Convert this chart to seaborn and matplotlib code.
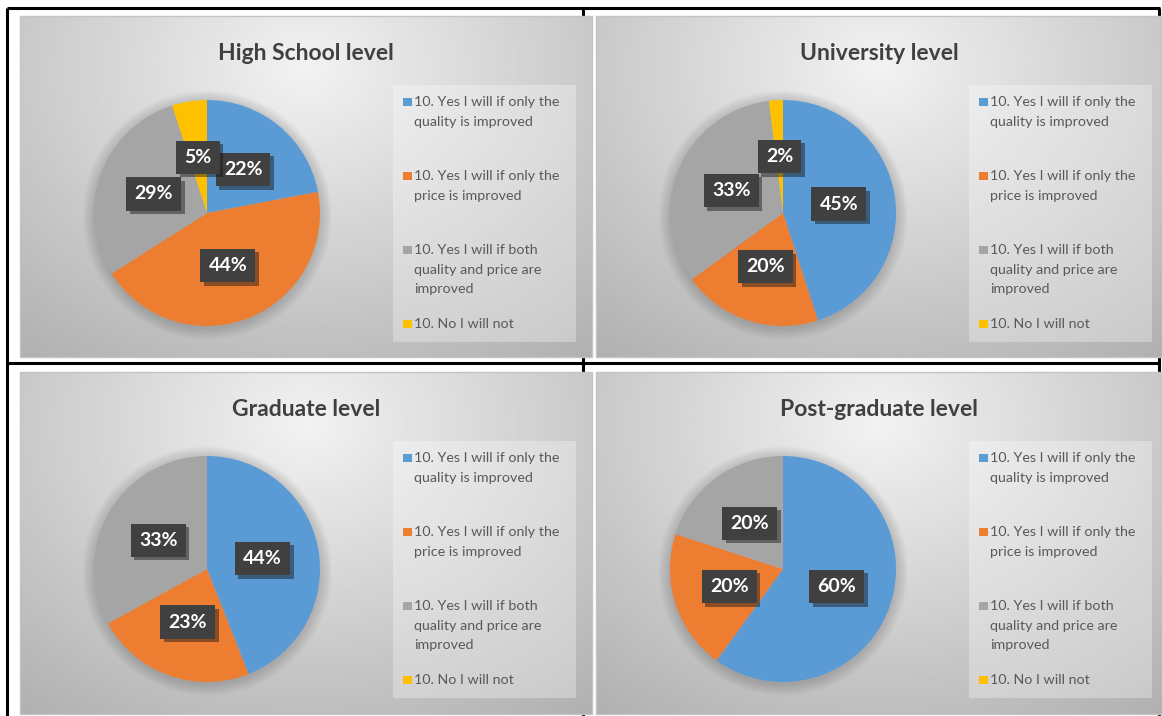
import textwrap
import numpy as np
import seaborn as sns
import matplotlib.pyplot as plt
from matplotlib.patches import Rectangle, Circle
import matplotlib.patheffects as pe

# data
categories = [
    '10. Yes I will if only the quality is improved',
    '10. Yes I will if only the price is improved',
    '10. Yes I will if both quality and price are improved',
    '10. No I will not',
]
titles = ['High School level', 'University level', 'Graduate level', 'Post-graduate level']
high_school = [22, 44, 29, 5]
university = [45, 20, 33, 2]
graduate = [44, 23, 33, 0]
post_graduate = [60, 20, 20, 0]
colors = ['#5B9BD5', '#ED7D31', '#A5A5A5', '#FFC000']

sns.set_theme(style='white')
plt.rcParams['font.family'] = ['Lato', 'DejaVu Sans']
palette = sns.color_palette(colors)

W, H = 1162, 716
fig = plt.figure(figsize=(W / 100, H / 100), dpi=100)
fig.patch.set_facecolor('white')

# background axes in pixel coordinates
bg = fig.add_axes([0, 0, 1, 1])
bg.set_xlim(0, W)
bg.set_ylim(H, 0)
bg.axis('off')
bg.set_autoscale_on(False)

# table grid lines (drawn under the chart panels)
for xs, ys in [((7, 1160), (8, 8)), ((7, 1160), (363, 363)),
               ((7, 7), (8, 716)), ((583, 583), (8, 716)), ((1159, 1159), (8, 716))]:
    bg.plot(xs, ys, color='black', lw=2.2, zorder=1, solid_capstyle='butt')

panels = [(20, 16, 592, 357), (596, 16, 1162, 357),
          (20, 372, 592, 714), (596, 372, 1162, 714)]
series = [high_school, university, graduate, post_graduate]

gy, gx = np.mgrid[0:1:200j, 0:1:300j]
dist = np.sqrt(((gx - 0.5) / 0.75) ** 2 + ((gy - 0.15) / 1.0) ** 2)
grad = np.clip(0.95 - 0.24 * dist, 0, 1)

r = 113
for (x0, y0, x1, y1), title, vals in zip(panels, titles, series):
    # panel with gradient fill
    bg.imshow(grad, cmap='gray', vmin=0, vmax=1, extent=(x0, x1, y1, y0),
              aspect='auto', zorder=2, interpolation='bilinear')
    bg.add_patch(Rectangle((x0, y0), x1 - x0, y1 - y0, fill=False,
                           edgecolor='#c4c4c4', lw=1, zorder=3))
    bg.text((x0 + x1) / 2, y0 + 37, title, ha='center', va='center',
            fontsize=16.5, fontweight='bold', color='#404040', zorder=4)

    # legend box
    lx0, ly0 = x0 + 373, y0 + 69
    bg.add_patch(Rectangle((lx0, ly0), 183, 257, facecolor='white', alpha=0.3,
                           edgecolor='none', zorder=3))
    for i, (cat, col) in enumerate(zip(categories, palette)):
        ty = y0 + 86 + 74 * i
        bg.add_patch(Rectangle((x0 + 383, ty - 4.5), 8.5, 8.5, facecolor=col,
                               edgecolor='none', zorder=4))
        for j, line in enumerate(textwrap.wrap(cat, 26)):
            bg.text(x0 + 394, ty + 19.5 * j, line, ha='left', va='center',
                    fontsize=10.3, color='#595959', zorder=4)

    # soft shadow round the pie
    cx, cy = x0 + 187, y0 + 197
    for k in range(8):
        bg.add_patch(Circle((cx, cy + 2), r + 1 + 1.5 * k, facecolor='black',
                            edgecolor='none', alpha=0.018, zorder=3))

    # pie
    ax = fig.add_axes([(cx - r) / W, 1 - (cy + r) / H, 2 * r / W, 2 * r / H])
    wedges, texts, autotexts = ax.pie(
        vals, colors=palette, startangle=90, counterclock=False,
        autopct=lambda p: f'{p:.0f}%' if p > 0.5 else '', pctdistance=0.5,
        wedgeprops=dict(linewidth=0),
        textprops=dict(color='white', fontsize=14, fontweight='bold',
                       bbox=dict(boxstyle='square,pad=0.42', facecolor='#404040',
                                 edgecolor='none')))
    for t in autotexts:
        t.set_zorder(5)
        bp = t.get_bbox_patch()
        if bp is not None:
            bp.set_path_effects([pe.SimplePatchShadow(offset=(2.5, -2.5), alpha=0.45),
                                 pe.Normal()])
    ax.set_xlim(-1, 1)
    ax.set_ylim(-1, 1)
    ax.set_aspect('equal')
    ax.axis('off')
    for w in wedges:
        w.set_clip_on(False)

fig.savefig('out.png', dpi=100, facecolor='white')
